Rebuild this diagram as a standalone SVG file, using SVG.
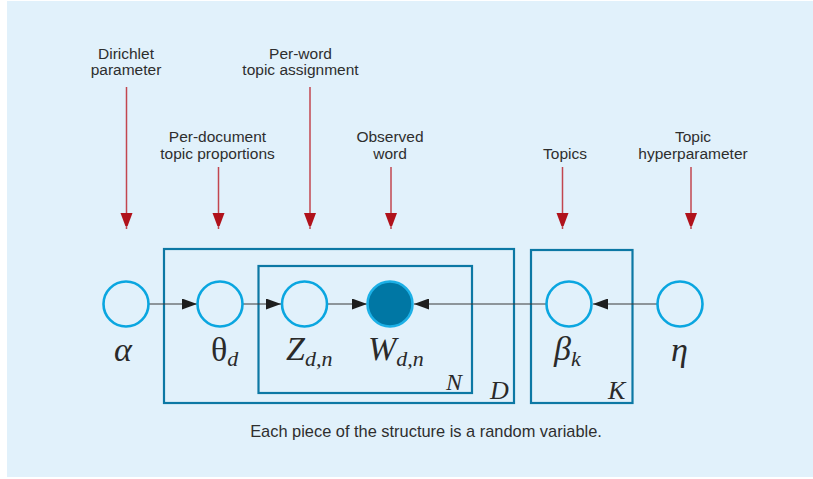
<svg xmlns="http://www.w3.org/2000/svg" width="813" height="479" viewBox="0 0 813 479">
<style>
.lbl{font-family:"Liberation Sans",Arial,sans-serif;font-size:15.5px;fill:#2e2e2e;text-anchor:middle}
.cap{font-family:"Liberation Sans",Arial,sans-serif;font-size:16.4px;fill:#2e2e2e;text-anchor:middle}
.math{font-family:"Liberation Serif","Times New Roman",serif;fill:#2a2a2a}
.it{font-style:italic}
.sub{font-size:22px;font-style:italic}
.node{fill:none;stroke:#0aa6e0;stroke-width:2.6}
.obs{fill:#0077a4;stroke:#1cb0e6;stroke-width:2.6}
.plate{fill:none;stroke:#0c78a4;stroke-width:2.2}
.pl{font-family:"Liberation Serif","Times New Roman",serif;font-style:italic;fill:#2a2a2a}
.edge{stroke:#3a3a3a;stroke-width:1.2;fill:none}
.ann{stroke:#c2464f;stroke-width:1.5;fill:none}
</style>
<defs>
<marker id="ah" markerUnits="userSpaceOnUse" markerWidth="16" markerHeight="11" refX="15" refY="5.5" orient="auto">
<path d="M0,0 L15,5.5 L0,11 z" fill="#1e1e1e"/>
</marker>
<marker id="rh" markerUnits="userSpaceOnUse" markerWidth="13" markerHeight="17" refX="16" refY="6" orient="auto">
<path d="M0,0 L16,6 L0,12 z" fill="#b0121b"/>
</marker>
</defs>
<rect x="7" y="1" width="806" height="476" fill="#e1f1fb"/>

<g id="plates">
<g id="plate-D"><rect class="plate" x="164" y="249" width="350" height="154"/><text class="pl" x="490" y="399" font-size="26">D</text></g>
<g id="plate-N"><rect class="plate" x="258.5" y="266" width="213.5" height="127"/><text class="pl" x="446" y="390" font-size="24">N</text></g>
<g id="plate-K"><rect class="plate" x="531" y="250" width="101.5" height="153"/><text class="pl" x="608" y="399" font-size="26">K</text></g>
</g>

<g id="connectors">
<line class="edge" x1="149" y1="304" x2="197" y2="304" marker-end="url(#ah)"/>
<line class="edge" x1="243" y1="304" x2="281" y2="304" marker-end="url(#ah)"/>
<line class="edge" x1="328" y1="304" x2="367" y2="304" marker-end="url(#ah)"/>
<line class="edge" x1="546" y1="304" x2="414" y2="304" marker-end="url(#ah)"/>
<line class="edge" x1="657" y1="304" x2="593" y2="304" marker-end="url(#ah)"/>
<line class="ann" x1="126.5" y1="87" x2="126.5" y2="229" marker-end="url(#rh)"/>
<line class="ann" x1="310" y1="87" x2="310" y2="229" marker-end="url(#rh)"/>
<line class="ann" x1="218.5" y1="167" x2="218.5" y2="229" marker-end="url(#rh)"/>
<line class="ann" x1="391" y1="167" x2="391" y2="229" marker-end="url(#rh)"/>
<line class="ann" x1="562.5" y1="167" x2="562.5" y2="229" marker-end="url(#rh)"/>
<line class="ann" x1="691" y1="167" x2="691" y2="229" marker-end="url(#rh)"/>
</g>

<g id="node-alpha"><circle class="node" cx="126" cy="304" r="22.5"/><text class="math it" x="114" y="361" font-size="34">α</text></g>
<g id="node-theta"><circle class="node" cx="220" cy="304" r="22.5"/><text class="math" x="211" y="361" font-size="34">θ<tspan class="sub" dy="5">d</tspan></text></g>
<g id="node-z"><circle class="node" cx="304.5" cy="304" r="22.5"/><text class="math it" x="286" y="360" font-size="34">Z<tspan class="sub" dy="6">d,n</tspan></text></g>
<g id="node-w"><circle class="obs" cx="390" cy="304" r="22.5"/><text class="math it" x="368" y="360" font-size="34">W<tspan class="sub" dy="6">d,n</tspan></text></g>
<g id="node-beta"><circle class="node" cx="569" cy="304" r="22.5"/><text class="math it" x="554" y="360" font-size="34">β<tspan class="sub" dy="6">k</tspan></text></g>
<g id="node-eta"><circle class="node" cx="680" cy="304" r="22.5"/><text class="math it" x="671" y="361" font-size="34">η</text></g>

<g id="labels">
<text class="lbl" x="126" y="58.5">Dirichlet</text><text class="lbl" x="126" y="75">parameter</text>
<text class="lbl" x="300.5" y="58.5">Per-word</text><text class="lbl" x="300.5" y="75">topic assignment</text>
<text class="lbl" x="217.5" y="142">Per-document</text><text class="lbl" x="217.5" y="158.5">topic proportions</text>
<text class="lbl" x="390" y="142">Observed</text><text class="lbl" x="390" y="158.5">word</text>
<text class="lbl" x="565" y="158.5">Topics</text>
<text class="lbl" x="693" y="142">Topic</text><text class="lbl" x="693" y="158.5">hyperparameter</text>
<text class="cap" x="426" y="437">Each piece of the structure is a random variable.</text>
</g>
</svg>
